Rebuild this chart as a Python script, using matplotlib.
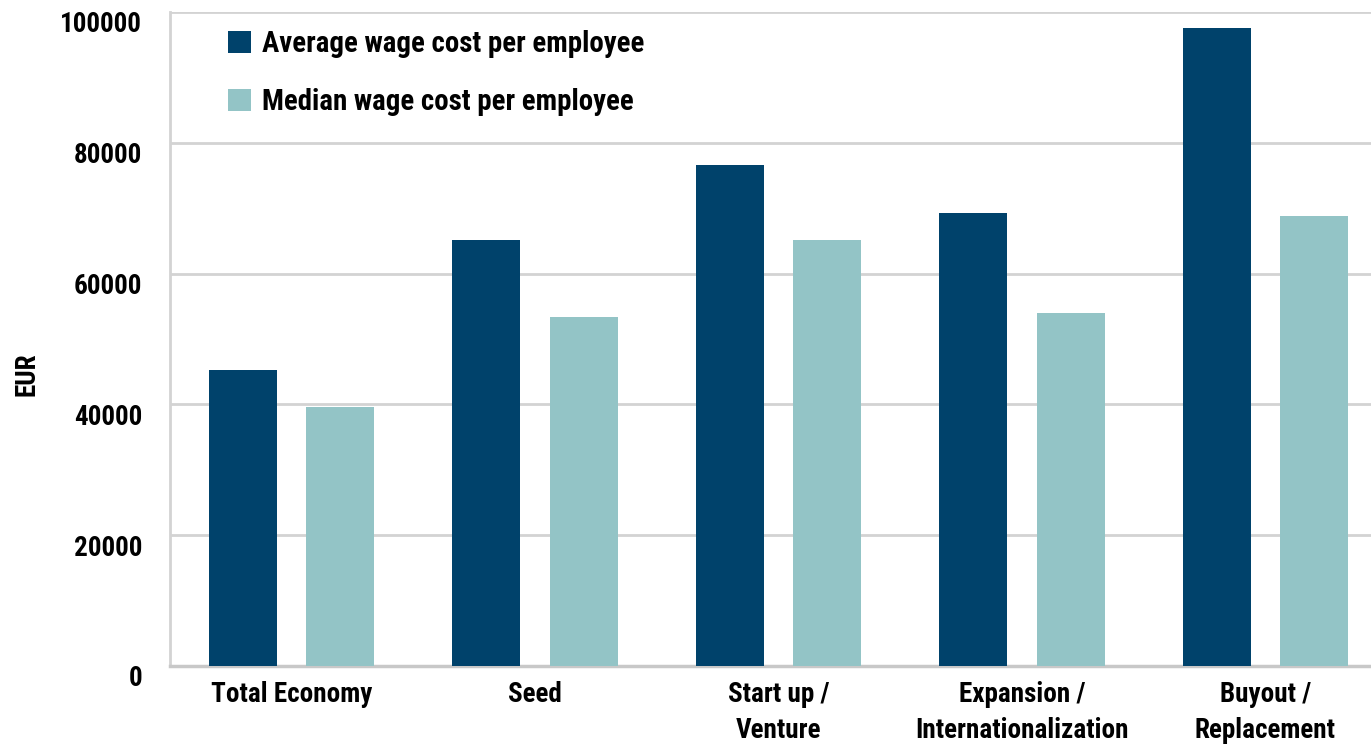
import matplotlib.pyplot as plt
import matplotlib.transforms as mtransforms
from matplotlib import font_manager
import numpy as np

categories = ['Total Economy', 'Seed', 'Start up /\nVenture',
              'Expansion /\nInternationalization', 'Buyout /\nReplacement']
average_wage = [45200, 65200, 76600, 69300, 97600]
median_wage = [39600, 53400, 65200, 54000, 68800]
series_names = ['Average wage cost per employee', 'Median wage cost per employee']

dark_blue = '#00426b'
light_teal = '#93c4c6'
grid_grey = '#d3d3d3'

# pick a narrow face if one is around
installed = {f.name for f in font_manager.fontManager.ttflist}
families = [f for f in ['Roboto Condensed', 'Liberation Sans Narrow', 'Liberation Sans']
            if f in installed]
plt.rcParams['font.family'] = families + ['DejaVu Sans']
plt.rcParams['font.weight'] = 'bold'

fig = plt.figure(figsize=(13.71, 7.48), dpi=100)
ax = fig.add_axes([170 / 1371, 82 / 748, 1217 / 1371, 654 / 748])

x = np.arange(len(categories))
w = 0.28
ax.bar(x - 0.2, average_wage, w, color=dark_blue, label=series_names[0], zorder=3)
ax.bar(x + 0.2, median_wage, w, color=light_teal, label=series_names[1], zorder=3)

ax.set_xlim(-0.5, 4.5)
ax.set_ylim(0, 100000)
ax.set_yticks(range(0, 100001, 20000))
ax.set_xticks(x)
ax.set_xticklabels(categories, fontsize=19.5, linespacing=1.42)

ax.yaxis.grid(True, color=grid_grey, linewidth=2, zorder=0)
ax.set_axisbelow(True)
for side in ['top', 'right']:
    ax.spines[side].set_visible(False)
ax.spines['left'].set_color(grid_grey)
ax.spines['left'].set_linewidth(2)
ax.spines['bottom'].set_color('#c8c8c8')
ax.spines['bottom'].set_linewidth(2.5)
ax.tick_params(axis='both', length=0, labelsize=19.5)
ax.tick_params(axis='y', pad=20)
ax.tick_params(axis='x', pad=11)

# y labels sit a bit below their gridlines in the original
offset = mtransforms.ScaledTranslation(0, -10 / 100, fig.dpi_scale_trans)
for lbl in ax.get_yticklabels():
    lbl.set_transform(lbl.get_transform() + offset)

ax.set_ylabel('EUR', fontsize=19.5, fontweight='bold')
ax.yaxis.set_label_coords(41 / 1371, 0.5, transform=fig.transFigure)

ax.legend(loc='upper left', bbox_to_anchor=(0.026, 1.012), frameon=False,
          fontsize=20.8, handlelength=0.8, handleheight=0.8, handletextpad=0.4,
          labelspacing=1.05)

fig.savefig('out.png', dpi=100)
